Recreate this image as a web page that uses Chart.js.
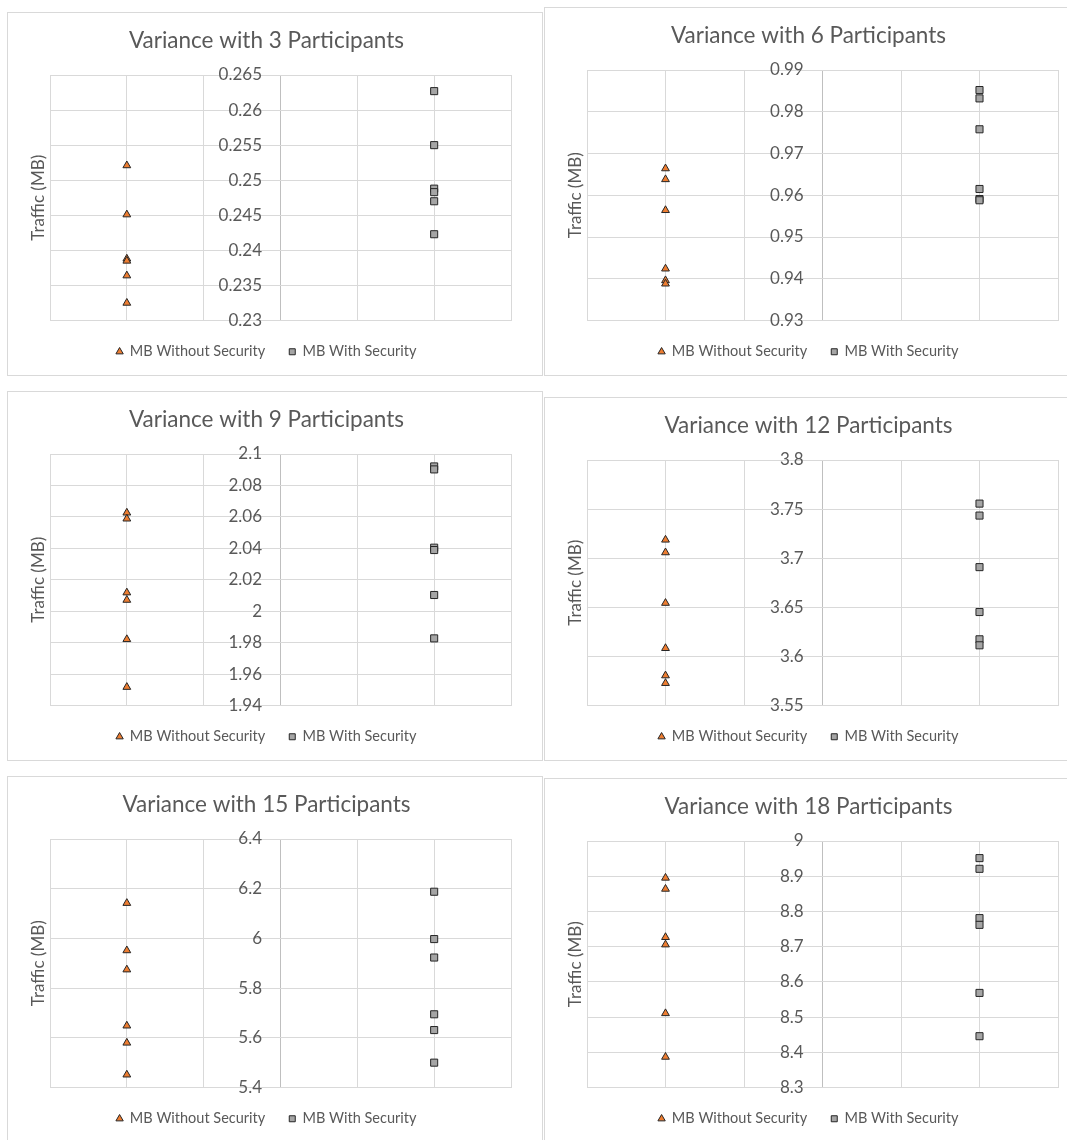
<!DOCTYPE html>
<html lang="en">
<head>
<meta charset="UTF-8">
<title>Variance with Participants</title>
<script src="https://cdn.jsdelivr.net/npm/chart.js"></script>
<style>
  body { margin: 0; width: 1067px; height: 1140px; overflow: hidden; background: #fff; position: relative; }
  .panel { position: absolute; border: 1px solid #d9d9d9; box-sizing: border-box; overflow: hidden; background: #fff; }
  .panel canvas { position: absolute; top: 0; left: 0; }
</style>
</head>
<body>
<script>
// values
const participants = [3, 6, 9, 12, 15, 18];
const seriesNames = ['MB Without Security', 'MB With Security'];
// x value of each series on the 0..6 horizontal axis
const seriesX = [1, 5];

const without3 = [0.2521, 0.2451, 0.2388, 0.2385, 0.2364, 0.2325];
const with3 = [0.2627, 0.2550, 0.2488, 0.2483, 0.2470, 0.2423];
const without6 = [0.9664, 0.9638, 0.9564, 0.9424, 0.9396, 0.9388];
const with6 = [0.9852, 0.9832, 0.9758, 0.9615, 0.9591, 0.9588];
const without9 = [2.0626, 2.0588, 2.0118, 2.0071, 1.9821, 1.9517];
const with9 = [2.0921, 2.0902, 2.0404, 2.0389, 2.0103, 1.9827];
const without12 = [3.7187, 3.7058, 3.6543, 3.6083, 3.5805, 3.5727];
const with12 = [3.7556, 3.7434, 3.6909, 3.6452, 3.6174, 3.6113];
const without15 = [6.1419, 5.9514, 5.8743, 5.6486, 5.5797, 5.4514];
const with15 = [6.1878, 5.9973, 5.9230, 5.6946, 5.6311, 5.5000];
const without18 = [8.8952, 8.8638, 8.7267, 8.7057, 8.5105, 8.3867];
const with18 = [8.9514, 8.9210, 8.7810, 8.7619, 8.5686, 8.4457];

// y axis ticks
const yMin = [0.23, 0.93, 1.94, 3.55, 5.4, 8.3];
const yMax = [0.265, 0.99, 2.1, 3.8, 6.4, 9];
const yStep = [0.005, 0.01, 0.02, 0.05, 0.2, 0.1];

const withoutSec = [without3, without6, without9, without12, without15, without18];
const withSec = [with3, with6, with9, with12, with15, with18];

// panel boxes: left, top, width, height
const boxes = [
  [7, 12, 536, 364], [544, 7, 546, 369],
  [7, 391, 536, 370], [544, 397, 546, 364],
  [7, 776, 536, 367], [544, 778, 546, 365]
];

const textColor = '#595959';
const gridColor = '#d9d9d9';
const font = 'Lato';

function drawPanel(i) {
  const b = boxes[i];
  const div = document.createElement('div');
  div.className = 'panel';
  div.style.left = b[0] + 'px';
  div.style.top = b[1] + 'px';
  div.style.width = b[2] + 'px';
  div.style.height = b[3] + 'px';
  const canvas = document.createElement('canvas');
  canvas.width = b[2] - 2;
  canvas.height = b[3] - 2;
  div.appendChild(canvas);
  document.body.appendChild(div);

  new Chart(canvas, {
    type: 'scatter',
    data: {
      datasets: [{
        label: seriesNames[0],
        data: withoutSec[i].map(v => ({ x: seriesX[0], y: v })),
        pointStyle: 'triangle',
        pointRadius: 4.5,
        backgroundColor: '#ED7D31',
        borderColor: '#262626',
        borderWidth: 1
      }, {
        label: seriesNames[1],
        data: withSec[i].map(v => ({ x: seriesX[1], y: v })),
        pointStyle: 'rect',
        pointRadius: 5,
        backgroundColor: '#A5A5A5',
        borderColor: '#262626',
        borderWidth: 1
      }]
    },
    options: {
      responsive: false,
      animation: false,
      layout: { padding: { left: 14, right: 31, top: 0, bottom: 6 } },
      plugins: {
        title: {
          display: true,
          text: 'Variance with ' + participants[i] + ' Participants',
          color: textColor,
          font: { family: font, size: 22.5, weight: 'normal' },
          padding: { top: 14, bottom: 21 }
        },
        legend: {
          position: 'bottom',
          labels: {
            usePointStyle: true,
            boxWidth: 6,
            boxHeight: 6,
            color: textColor,
            font: { family: font, size: 14.5 },
            padding: 24
          }
        },
        tooltip: { enabled: false }
      },
      scales: {
        x: {
          type: 'linear',
          min: 0,
          max: 6,
          ticks: { display: false, stepSize: 1 },
          grid: {
            drawTicks: false,
            color: c => (c.tick && c.tick.value === 3) ? '#bfbfbf' : gridColor
          },
          border: { color: gridColor }
        },
        y: {
          type: 'linear',
          min: yMin[i],
          max: yMax[i],
          ticks: { display: false, stepSize: yStep[i] },
          grid: { drawTicks: false, color: gridColor },
          border: { display: false },
          title: {
            display: true,
            text: 'Traffic (MB)',
            color: textColor,
            font: { family: font, size: 17 },
            padding: { top: 6, bottom: 0 }
          },
          afterFit: s => { s.width = 28; }
        },
        // value labels sit just left of the middle axis line, as in Excel
        yc: {
          type: 'linear',
          axis: 'y',
          position: { x: 2.76 },
          min: yMin[i],
          max: yMax[i],
          ticks: {
            stepSize: yStep[i],
            color: textColor,
            font: { family: font, size: 17 },
            callback: v => String(+v.toFixed(4))
          },
          grid: { display: false },
          border: { display: false }
        }
      }
    }
  });
}

for (let i = 0; i < boxes.length; i++) drawPanel(i);
</script>
</body>
</html>
